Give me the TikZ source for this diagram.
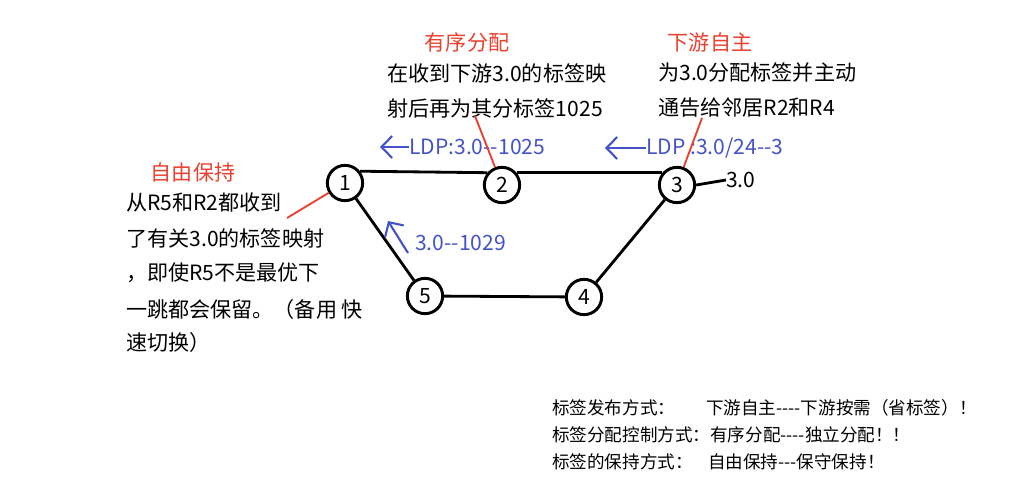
\documentclass[tikz,border=0pt]{standalone}
\usepackage{fontspec}
\setmainfont{Noto Sans CJK SC}[Ligatures=TeXOff]
\usepackage{xcolor}
\usepackage{tikz}
\usetikzlibrary{arrows.meta,positioning}
\definecolor{nred}{HTML}{E8412F}
\definecolor{nblue}{HTML}{4653C6}

\begin{document}
\begin{tikzpicture}[x=0.3mm,y=-0.3mm,
  router/.style={circle, draw=black, line width=2.5pt, minimum size=10.6mm,
                 inner sep=0pt, font=\fontsize{18}{18}\selectfont},
  link/.style={black, line width=2.4pt},
  note/.style={anchor=west, inner sep=0pt, font=\fontsize{18}{20}\selectfont},
  tag/.style={nred, inner sep=0pt, font=\fontsize{18}{20}\selectfont},
  msg/.style={nblue, anchor=west, inner sep=0pt, font=\fontsize{18}{20}\selectfont},
  msgarrow/.style={nblue, line width=1.8pt, -{Straight Barb[length=3.2mm,width=6.6mm]}},
  pointer/.style={nred, line width=1.6pt},
  sumtxt/.style={anchor=west, inner sep=0pt, font=\fontsize{15}{17}\selectfont}]

  \useasboundingbox (0,0) rectangle (1012,477);

  % ----- roteadores -----
  \node[router] (n1) at (345,183) {1};
  \node[router] (n2) at (502,185) {2};
  \node[router] (n3) at (677,185) {3};
  \node[router] (n4) at (584,297) {4};
  \node[router] (n5) at (425,296) {5};
  \node[note] (dst) at (726,180) {3.0};

  % ----- enlaces -----
  \draw[link] (n1.38) -- (n2.140);
  \draw[link] (n2.40) -- (n3.140);
  \draw[link] (n3.east) -- (dst.west);
  \draw[link] (n1) -- (n5);
  \draw[link] (n5) -- (n4);
  \draw[link] (n4) -- (n3);

  % ----- mensagens LDP -----
  \node[msg] (ldp2) at (409,147) {LDP:3.0--1025};
  \coordinate (a2) at (380,147);
  \draw[msgarrow] (ldp2.west) -- (a2);
  \node[msg] (ldp3) at (646,148) {LDP :3.0/24--3};
  \coordinate (a3) at (605,148);
  \draw[msgarrow] (ldp3.west) -- (a3);
  \node[msg] (ldp5) at (415,243) {3.0--1029};
  \coordinate (b5) at (408,253);
  \coordinate (a5) at (388,221);
  \draw[msgarrow] (b5) -- (a5);

  % ----- R2: ordered control -----
  \node[tag] (t2) at (467,42) {有序分配};
  \node[note] (d2a) at (387,73) {在收到下游3.0的标签映};
  \node[note] (d2b) at (387,108) {射后再为其分标签1025};
  \coordinate (p2) at (475,116);
  \draw[pointer] (p2) -- (n2);

  % ----- R3: downstream unsolicited -----
  \node[tag] (t3) at (710,42) {下游自主};
  \node[note] (d3a) at (658,73) {为3.0分配标签并主动};
  \node[note] (d3b) at (658,108) {通告给邻居R2和R4};
  \coordinate (p3) at (702,118);
  \draw[pointer] (p3) -- (n3);

  % ----- R1: liberal retention -----
  \node[tag] (t1) at (193,172) {自由保持};
  \node[note] (d1a) at (126,202) {从R5和R2都收到};
  \node[note] (d1b) at (126,238) {了有关3.0的标签映射};
  \node[note] (d1c) at (126,273) {，即使R5不是最优下};
  \node[note] (d1d) at (126,309) {一跳都会保留。（备用 快};
  \node[note] (d1e) at (126,342) {速切换）};
  \coordinate (p1) at (287,218);
  \draw[pointer] (p1) -- (n1);

  % ----- resumo -----
  \node[sumtxt] (s1a) at (552,408) {标签发布方式：};
  \node[sumtxt] (s1b) at (706,408) {下游自主----下游按需（省标签）！};
  \node[sumtxt] (s2)  at (552,435) {标签分配控制方式：有序分配----独立分配！！};
  \node[sumtxt] (s3a) at (552,462) {标签的保持方式：};
  \node[sumtxt] (s3b) at (708,462) {自由保持---保守保持！};

\end{tikzpicture}
\end{document}
